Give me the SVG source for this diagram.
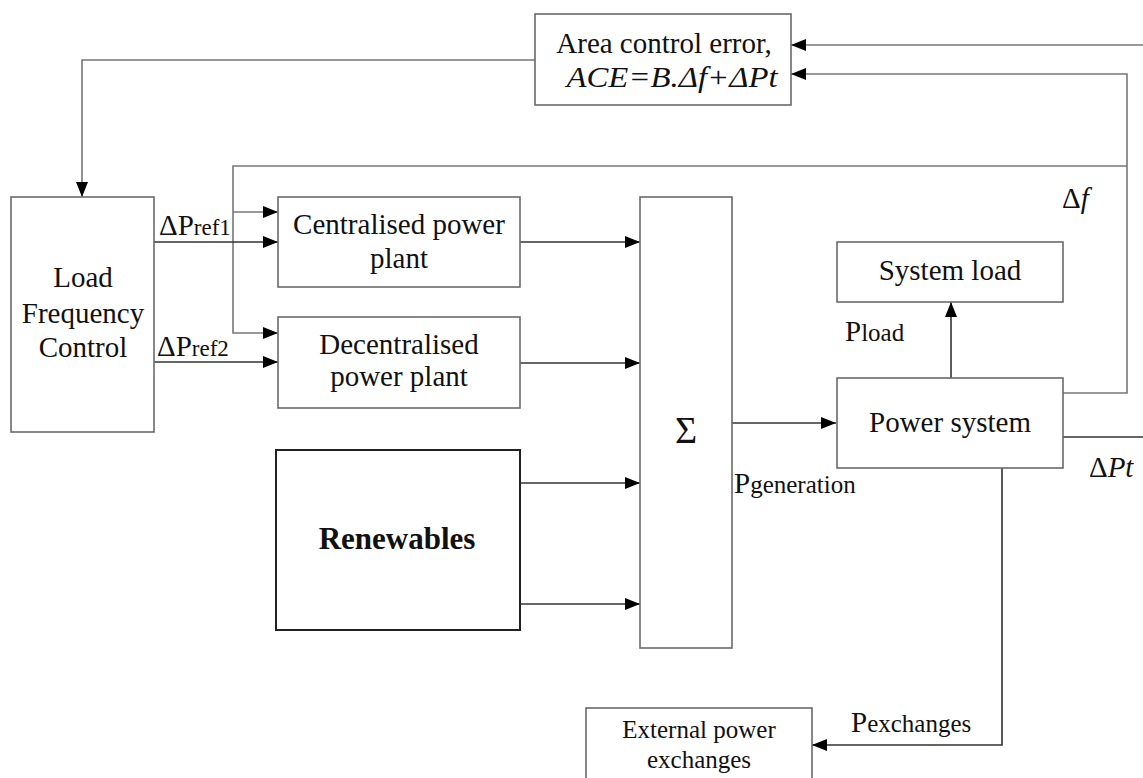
<svg xmlns="http://www.w3.org/2000/svg" width="1143" height="778" viewBox="0 0 1143 778">
<defs>
<marker id="arr" markerUnits="userSpaceOnUse" markerWidth="15" markerHeight="12" refX="15" refY="6" orient="auto">
<path d="M0,0 L15,6 L0,12 z" fill="#000"/>
</marker>
<style>
.box{fill:#fff;stroke:#6a6a6a;stroke-width:1.6}
.boxd{fill:#fff;stroke:#222;stroke-width:2}
.ln{fill:none;stroke:#777;stroke-width:1.6}
.lnd{fill:none;stroke:#333;stroke-width:1.6}
.t{font-family:"Liberation Serif","Times New Roman",serif;font-size:29px;fill:#111;text-anchor:middle}
.s{font-family:"Liberation Serif","Times New Roman",serif;fill:#111}
</style>
</defs>
<rect width="1143" height="778" fill="#fff"/>
<g id="connectors">
<path class="ln" d="M535,60 H82 V197" marker-end="url(#arr)"/>
<path class="ln" d="M1143,45 H791" marker-end="url(#arr)"/>
<path class="ln" d="M1063,393 H1127 V74 H791" marker-end="url(#arr)"/>
<path class="ln" d="M1127,166 H233 V333 H278" marker-end="url(#arr)"/>
<path class="ln" d="M233,212 H278" marker-end="url(#arr)"/>
<path class="lnd" d="M154,242 H278" marker-end="url(#arr)"/>
<path class="lnd" d="M154,362 H278" marker-end="url(#arr)"/>
<path class="lnd" d="M520,242 H640" marker-end="url(#arr)"/>
<path class="lnd" d="M520,363 H640" marker-end="url(#arr)"/>
<path class="lnd" d="M520,483 H640" marker-end="url(#arr)"/>
<path class="lnd" d="M520,604 H640" marker-end="url(#arr)"/>
<path class="lnd" d="M732,423 H836" marker-end="url(#arr)"/>
<path class="lnd" d="M951,378 V302" marker-end="url(#arr)"/>
<path class="lnd" d="M1063,437 H1143"/>
<path class="lnd" d="M1002,467 V745 H812" marker-end="url(#arr)"/>
</g>
<g id="labels">
<text class="s" x="159" y="235"><tspan font-size="29">ΔP</tspan><tspan font-size="23">ref1</tspan></text>
<text class="s" x="157" y="356"><tspan font-size="29">ΔP</tspan><tspan font-size="23">ref2</tspan></text>
<text class="s" x="1062" y="208" font-size="29">Δ<tspan font-style="italic">f</tspan></text>
<text class="s" x="845" y="341"><tspan font-size="29">P</tspan><tspan font-size="25">load</tspan></text>
<text class="s" x="1089" y="477" font-size="29">Δ<tspan font-style="italic">Pt</tspan></text>
<text class="s" x="734" y="493"><tspan font-size="29">P</tspan><tspan font-size="25">generation</tspan></text>
<text class="s" x="851" y="732"><tspan font-size="29">P</tspan><tspan font-size="25">exchanges</tspan></text>
</g>
<g id="ace">
<rect class="box" x="535" y="14" width="256" height="91"/>
<text class="t" x="664" y="53">Area control error,</text>
<text class="t" x="672" y="87" font-style="italic" textLength="211" lengthAdjust="spacingAndGlyphs">ACE=B.Δf+ΔPt</text>
</g>
<g id="lfc">
<rect class="box" x="11" y="197" width="143" height="235"/>
<text class="t" x="83" y="287">Load</text>
<text class="t" x="83" y="323">Frequency</text>
<text class="t" x="83" y="357">Control</text>
</g>
<g id="centralised">
<rect class="box" x="278" y="197" width="242" height="90"/>
<text class="t" x="399" y="234">Centralised power</text>
<text class="t" x="399" y="268">plant</text>
</g>
<g id="decentralised">
<rect class="box" x="278" y="317" width="242" height="91"/>
<text class="t" x="399" y="354">Decentralised</text>
<text class="t" x="399" y="386">power plant</text>
</g>
<g id="renewables">
<rect class="boxd" x="276" y="450" width="244" height="180"/>
<text class="t" x="397" y="549" style="font-size:31px;font-weight:bold">Renewables</text>
</g>
<g id="sum">
<rect class="box" x="640" y="197" width="92" height="451"/>
<text class="t" x="686" y="443" style="font-size:38px">Σ</text>
</g>
<g id="system-load">
<rect class="box" x="837" y="242" width="226" height="60"/>
<text class="t" x="950" y="280">System load</text>
</g>
<g id="power-system">
<rect class="box" x="837" y="378" width="226" height="90"/>
<text class="t" x="950" y="432">Power system</text>
</g>
<g id="external">
<rect class="box" x="586" y="708" width="226" height="80"/>
<text class="t" x="699" y="738" style="font-size:25px">External power</text>
<text class="t" x="699" y="768" style="font-size:25px">exchanges</text>
</g>
</svg>
